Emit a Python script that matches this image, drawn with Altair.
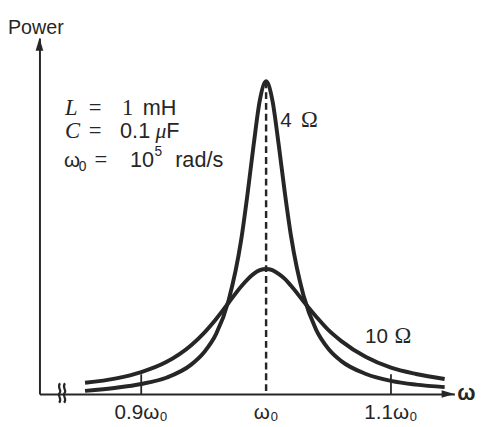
import altair as alt
import pandas as pd

# ---- data (relative power units) ----
omega = [0.855, 0.88, 0.90, 0.92, 0.94, 0.95, 0.96, 0.97, 0.98, 0.985, 0.99, 0.995,
         1.0, 1.005, 1.01, 1.015, 1.02, 1.03, 1.04, 1.05, 1.06, 1.08, 1.10, 1.12, 1.143]
p_4ohm = [2.5, 5, 8, 13, 23.5, 33, 48, 75, 123, 159, 199, 235,
          250, 235, 200, 161, 126, 78.5, 51.5, 36, 26.5, 16, 10.5, 7.5, 5.5]
p_10ohm = [9, 12.5, 17.5, 25.5, 39, 48.5, 60, 73, 86, 91.5, 96, 99,
           100, 99, 96, 92, 86.5, 74, 62, 51, 42.5, 29.5, 21, 16, 12]
resistances = ["4 Ω", "10 Ω"]
tick_values = [0.9, 1.0, 1.1]
tick_labels = ["0.9ω₀", "ω₀", "1.1ω₀"]

INK = "#262626"
SANS = "Liberation Sans"
SERIF = "Liberation Serif"
W, H = 422, 362

curves = pd.DataFrame({
    "omega": omega + omega,
    "power": p_4ohm + p_10ohm,
    "R": [resistances[0]] * len(omega) + [resistances[1]] * len(omega),
})
pk = p_4ohm.index(max(p_4ohm))
peak = pd.DataFrame({"omega": [omega[pk]], "power": [p_4ohm[pk]]})
ticks = pd.DataFrame({"omega": [v for v in tick_values if v != omega[pk]]})
labels = pd.DataFrame({"omega": tick_values, "label": tick_labels})
one = pd.DataFrame({"k": [0]})

xscale = alt.Scale(domain=[0.8185, 1.1508], nice=False, zero=False)
yscale = alt.Scale(domain=[0, 284.6], nice=False)
xaxis = alt.Axis(domain=True, labels=False, ticks=False, grid=False, title=None,
                 domainColor=INK, domainWidth=2)
yaxis = alt.Axis(domain=True, labels=False, ticks=False, grid=False, title=None,
                 domainColor=INK, domainWidth=2)

lines = alt.Chart(curves).mark_line(interpolate="monotone", strokeWidth=4, color=INK).encode(
    x=alt.X("omega:Q", scale=xscale, axis=xaxis),
    y=alt.Y("power:Q", scale=yscale, axis=yaxis),
    detail="R:N",
)

dashed = alt.Chart(peak).mark_rule(strokeDash=[7, 4], strokeWidth=2.5, color=INK).encode(
    x=alt.X("omega:Q", scale=xscale),
    y=alt.Y("power:Q", scale=yscale),
    y2=alt.value(H),
)

tickmarks = alt.Chart(ticks).mark_rule(strokeWidth=1.8, color=INK).encode(
    x=alt.X("omega:Q", scale=xscale),
    y=alt.value(H),
    y2=alt.value(H - 20),
)

ticklabels = alt.Chart(labels).mark_text(
    align="center", baseline="alphabetic", font=SANS, fontSize=21, color=INK
).encode(
    x=alt.X("omega:Q", scale=xscale),
    y=alt.value(H + 25),
    text="label:N",
)

arrow_x = alt.Chart(one).mark_point(
    shape="M0,0L-2,-0.6L-2,0.6Z", size=169, filled=True, color=INK, opacity=1
).encode(x=alt.value(W), y=alt.value(H))
arrow_y = alt.Chart(one).mark_point(
    shape="M0,0L-0.6,2L0.6,2Z", size=169, filled=True, color=INK, opacity=1
).encode(x=alt.value(0), y=alt.value(0))
squiggle = alt.Chart(one).mark_point(
    shape="M-0.23,-1.1C-0.63,-0.6,0.03,-0.3,-0.28,0C-0.59,0.3,0.07,0.6,-0.33,1.1"
          "M0.33,-1.1C-0.07,-0.6,0.59,-0.3,0.28,0C-0.03,0.3,0.63,0.6,0.23,1.1",
    size=324, filled=False, strokeWidth=2.2, color=INK, opacity=1
).encode(x=alt.value(23), y=alt.value(H - 1))


def txt(s, x, y, size=22, font=SANS, style="normal", weight="normal"):
    return alt.Chart(one).mark_text(
        text=s, align="left", baseline="alphabetic", font=font, fontSize=size,
        fontStyle=style, fontWeight=weight, color=INK
    ).encode(x=alt.value(x), y=alt.value(y))


annotations = [
    txt("Power", -32, -4, size=20),
    # L = 1 mH
    txt("L", 26, 78, size=23, font=SERIF, style="italic"),
    txt("=", 50, 78, size=23, font=SERIF),
    txt("1", 84, 78, size=23, font=SERIF),
    txt("mH", 105, 78),
    # C = 0.1 uF
    txt("C", 26, 102, size=23, font=SERIF, style="italic"),
    txt("=", 50, 102, size=23, font=SERIF),
    txt("0.1", 82, 102),
    txt("μ", 118, 102, font=SERIF, style="italic"),
    txt("F", 129, 102),
    # w0 = 10^5 rad/s
    txt("ω", 25, 131, size=21),
    txt("0", 40, 135, size=14),
    txt("=", 56, 131, size=23, font=SERIF),
    txt("10", 92, 131),
    txt("5", 117, 120, size=14),
    txt("rad/s", 138, 131),
    # curve labels
    txt("4", 245, 90, size=21),
    txt("Ω", 266, 90, size=23, font=SERIF),
    txt("10", 331, 310, size=21),
    txt("Ω", 361, 310, size=23, font=SERIF),
    # axis symbol
    txt("ω", 425, 368, size=22, weight="bold"),
]

chart = alt.layer(
    lines, dashed, tickmarks, ticklabels, arrow_x, arrow_y, squiggle, *annotations
).properties(
    width=W, height=H,
    autosize=alt.AutoSizeParams(type="none"),
    padding={"left": 32, "top": 27, "right": 24, "bottom": 30},
    background="white",
).configure_view(stroke=None)

chart.save("out.html", embed_options={"renderer": "svg", "actions": False})
